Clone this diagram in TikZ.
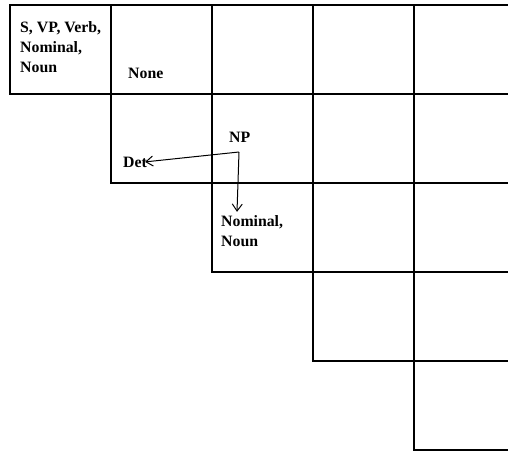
\documentclass[tikz,border=0pt]{standalone}
\usepackage{fontspec}
\setmainfont{Liberation Serif}
\usetikzlibrary{arrows.meta}
\begin{document}
\begin{tikzpicture}[x=1pt,y=-1pt,
  cell/.style={draw=black,line width=1.5pt},
  label/.style={inner sep=0pt,anchor=base west,align=left,
    font=\fontsize{15.8}{20}\selectfont\bfseries},
  link/.style={line width=1pt,-{Straight Barb[length=7pt,width=10pt]}}]
  \useasboundingbox (0,0) rectangle (508,450);
  \clip (0,0) rectangle (508,450);
  % upper-triangular parse table: row r holds columns r..5
  \foreach \r in {1,...,5}{
    \foreach \c in {\r,...,5}{
      \draw[cell] ({10+101*(\c-1)},{5+89*(\r-1)}) rectangle ++(101,89);
    }
  }
  % cell contents (multi-line labels sit on the baseline of their last line)
  \node[label] (c11) at (20,72) {S, VP, Verb,\\Nominal,\\Noun};
  \node[label] (none) at (128,78) {None};
  \node[label] (np) at (229,142) {NP};
  \node[label] (det) at (123,167) {Det};
  \node[label] (nom) at (221,246) {Nominal,\\Noun};
  % back-pointers from NP
  \coordinate (fork) at (239,152);
  \draw[link] (fork) -- ([xshift=-2pt]det.east);
  \draw[link] (fork) -- ([xshift=16pt,yshift=3pt]nom.north west);
\end{tikzpicture}
\end{document}
